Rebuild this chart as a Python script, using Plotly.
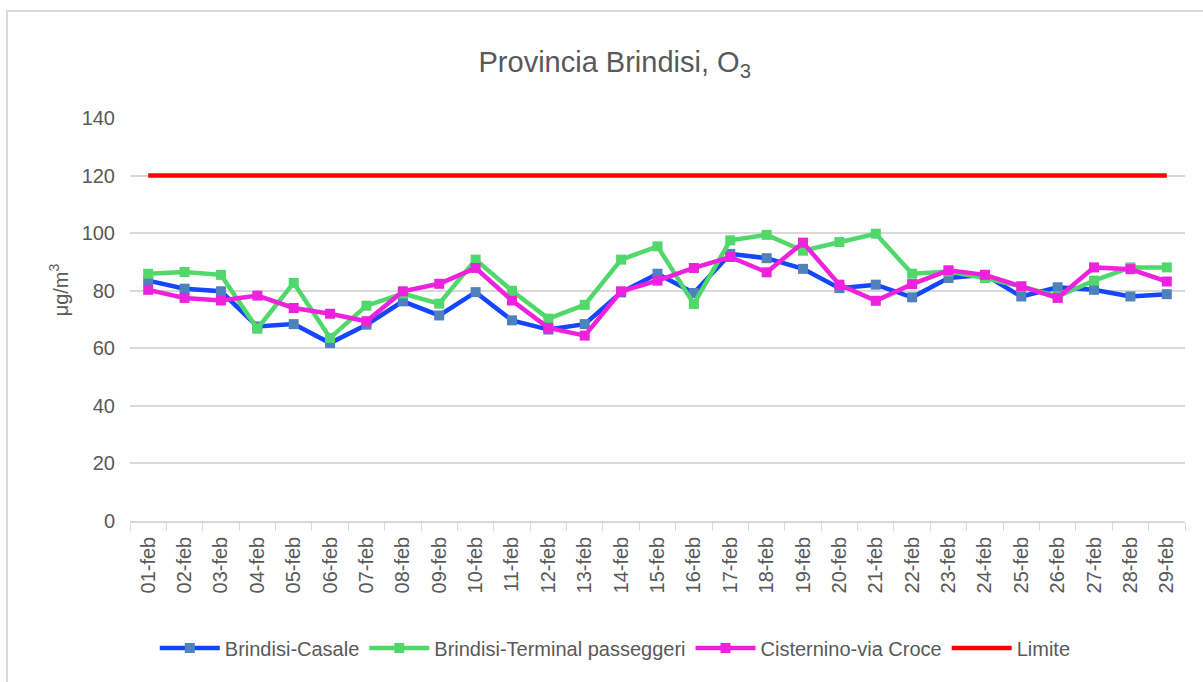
import plotly.graph_objects as go

days = [f"{d:02d}-feb" for d in range(1, 30)]

casale = [83.5, 80.7, 79.8, 67.6, 68.4, 61.8, 68.2, 76.3, 71.4, 79.5,
          69.7, 66.5, 68.4, 79.4, 85.9, 79.2, 92.8, 91.3, 87.6, 80.9,
          82.1, 77.7, 84.4, 85.5, 78.0, 81.2, 80.3, 78.0, 78.8]
terminal = [85.9, 86.5, 85.5, 66.8, 82.7, 63.6, 74.8, 79.0, 75.5, 90.8,
            80.0, 70.3, 75.1, 90.8, 95.4, 75.4, 97.5, 99.4, 93.9, 96.9,
            99.8, 85.9, 86.7, 84.4, 81.5, 78.0, 83.5, 88.1, 88.1]
cisternino = [80.3, 77.5, 76.6, 78.3, 74.0, 72.0, 69.4, 79.8, 82.4, 87.9,
              76.6, 67.1, 64.4, 79.8, 83.5, 87.9, 91.7, 86.4, 96.7, 82.1,
              76.5, 82.3, 87.1, 85.5, 81.5, 77.5, 88.1, 87.5, 83.2]
limite = [120] * 29

font_family = "Liberation Sans, Arial, sans-serif"
grey = "#595959"

fig = go.Figure()
fig.add_trace(go.Scatter(x=days, y=casale, name="Brindisi-Casale", mode="lines+markers",
                         line=dict(color="#1446FF", width=4.5),
                         marker=dict(symbol="square", size=10, color="#4F81BD")))
fig.add_trace(go.Scatter(x=days, y=terminal, name="Brindisi-Terminal passeggeri", mode="lines+markers",
                         line=dict(color="#50D86A", width=4.5),
                         marker=dict(symbol="square", size=10, color="#50D86A")))
fig.add_trace(go.Scatter(x=days, y=cisternino, name="Cisternino-via Croce", mode="lines+markers",
                         line=dict(color="#EE22DD", width=4.5),
                         marker=dict(symbol="square", size=10, color="#EE22DD")))
fig.add_trace(go.Scatter(x=days, y=limite, name="Limite", mode="lines",
                         line=dict(color="#FF0000", width=4.5)))

fig.update_layout(
    width=1203, height=682,
    paper_bgcolor="white", plot_bgcolor="white",
    margin=dict(l=130, r=18, t=118, b=161, autoexpand=False),
    font=dict(family=font_family, color=grey, size=20),
    title=dict(text="Provincia Brindisi, O<sub>3</sub>", x=0.511, xanchor="center",
               y=0.909, yref="container", yanchor="middle",
               font=dict(size=29, color=grey, family=font_family)),
    legend=dict(orientation="h", x=0.46, xanchor="center", y=-0.315, yanchor="middle",
                font=dict(size=20, color=grey), traceorder="normal", itemwidth=60),
    showlegend=True,
)
fig.update_yaxes(range=[0, 140], dtick=20, showgrid=True, gridcolor="#D9D9D9", gridwidth=1.5,
                 zeroline=False, showline=False, ticks="", tickfont=dict(size=20),
                 ticklabelstandoff=14)
fig.update_xaxes(type="category", tickangle=-90, showgrid=False, showline=True,
                 linecolor="#D9D9D9", linewidth=1.5, ticks="outside", tickson="boundaries",
                 ticklen=8, tickcolor="#D9D9D9", tickfont=dict(size=20),
                 ticklabelstandoff=6, range=[-0.5, 28.5])

fig.add_annotation(text="μg/m<sup>3</sup>", xref="paper", yref="paper",
                   x=-0.068, y=0.573, xanchor="center", yanchor="middle",
                   textangle=-90, showarrow=False, font=dict(size=20, color=grey))

fig.add_shape(type="rect", xref="paper", yref="paper",
              x0=-0.1166, x1=1.0237, y0=-0.419, y1=1.2655,
              line=dict(color="#D9D9D9", width=2), fillcolor="rgba(0,0,0,0)", layer="below")

fig.write_html("out.html", config={"displayModeBar": False},
               post_script="document.body.style.margin='0';")
